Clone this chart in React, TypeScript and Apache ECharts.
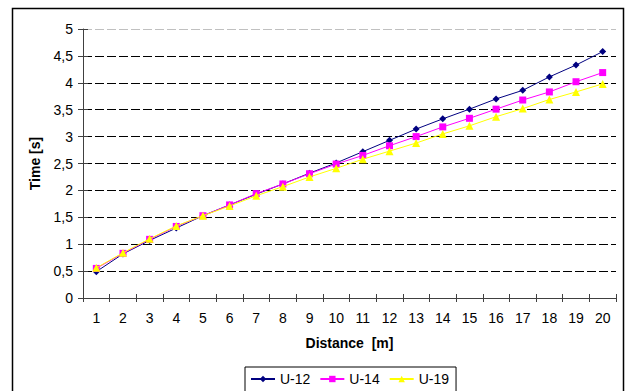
import React, { useEffect, useRef } from "react";
import * as echarts from "echarts";

const categories = ["1","2","3","4","5","6","7","8","9","10","11","12","13","14","15","16","17","18","19","20"];
const u12 = [0.49, 0.82, 1.07, 1.3, 1.53, 1.73, 1.93, 2.12, 2.32, 2.51, 2.72, 2.93, 3.14, 3.33, 3.51, 3.7, 3.86, 4.11, 4.33, 4.58];
const u14 = [0.55, 0.83, 1.09, 1.33, 1.53, 1.73, 1.94, 2.12, 2.31, 2.49, 2.65, 2.83, 3.0, 3.18, 3.34, 3.51, 3.68, 3.83, 4.02, 4.19];
const u19 = [0.56, 0.84, 1.1, 1.34, 1.53, 1.71, 1.9, 2.07, 2.25, 2.41, 2.58, 2.73, 2.88, 3.05, 3.2, 3.37, 3.52, 3.69, 3.83, 3.98];
const seriesNames = ["U-12", "U-14", "U-19"];

const FONT = "Liberation Sans, Arial, sans-serif";

export default function App() {
  const ref = useRef<HTMLDivElement>(null);
  useEffect(() => {
    if (!ref.current) return;
    const chart = echarts.init(ref.current, undefined, { renderer: "svg" });
    const gridColors = ["#000", "#000", "#000", "#000", "#000", "#000", "#000", "#000", "#000", "#000", "#c0c0c0"];
    chart.setOption({
      animation: false,
      backgroundColor: "#fff",
      textStyle: { fontFamily: FONT },
      graphic: [
        {
          type: "rect",
          shape: { x: 12.5, y: 8.5, width: 611, height: 400 },
          style: { fill: "none", stroke: "#000", lineWidth: 1.5 },
          silent: true,
        },
      ],
      grid: { left: 83, right: 10, top: 29, bottom: 93, containLabel: false },
      legend: {
        left: 245,
        top: 367,
        itemWidth: 24,
        itemHeight: 8,
        itemGap: 9,
        padding: [5, 7, 12, 5],
        borderColor: "#000",
        borderWidth: 1,
        data: seriesNames,
        textStyle: { fontFamily: FONT, fontSize: 14, color: "#000" },
      },
      xAxis: [
        {
          type: "category",
          data: categories,
          boundaryGap: true,
          name: "Distance  [m]",
          nameLocation: "middle",
          nameGap: 38,
          nameTextStyle: { fontFamily: FONT, fontSize: 14, fontWeight: "bold", color: "#000" },
          axisLine: { lineStyle: { color: "#404040", width: 1 } },
          axisTick: { show: true, length: 4, lineStyle: { color: "#404040" } },
          axisLabel: { margin: 13, fontFamily: FONT, fontSize: 14, color: "#000", interval: 0 },
          splitLine: { show: false },
        },
        {
          type: "category",
          data: categories,
          position: "bottom",
          boundaryGap: true,
          axisLine: { show: false },
          axisTick: { show: true, inside: true, length: 4, lineStyle: { color: "#404040" } },
          axisLabel: { show: false },
          splitLine: { show: false },
        },
      ],
      yAxis: [
        {
          type: "value",
          min: 0,
          max: 5,
          interval: 0.5,
          name: "Time [s]",
          nameLocation: "middle",
          nameGap: 41,
          nameRotate: 90,
          nameTextStyle: { fontFamily: FONT, fontSize: 14, fontWeight: "bold", color: "#000" },
          axisLine: { show: true, lineStyle: { color: "#404040", width: 1 } },
          axisTick: { show: true, length: 5, lineStyle: { color: "#404040" } },
          axisLabel: {
            margin: 10,
            fontFamily: FONT,
            fontSize: 14,
            color: "#000",
            formatter: (v: number) => String(v).replace(".", ","),
          },
          splitLine: { show: true, lineStyle: { color: gridColors, type: [9, 3], width: 1 } },
        },
        {
          type: "value",
          min: 0,
          max: 5,
          interval: 0.5,
          position: "left",
          axisLine: { show: false },
          axisTick: { show: true, inside: true, length: 5, lineStyle: { color: "#404040" } },
          axisLabel: { show: false },
          splitLine: { show: false },
        },
      ],
      series: [
        {
          name: seriesNames[0],
          type: "line",
          data: u12,
          color: "#000080",
          symbol: "diamond",
          symbolSize: 7,
          lineStyle: { width: 1, color: "#000080" },
          itemStyle: { color: "#000080" },
          z: 3,
        },
        {
          name: seriesNames[1],
          type: "line",
          data: u14,
          color: "#ff00ff",
          symbol: "rect",
          symbolSize: 7,
          lineStyle: { width: 1, color: "#ff00ff" },
          itemStyle: { color: "#ff00ff" },
          z: 4,
        },
        {
          name: seriesNames[2],
          type: "line",
          data: u19,
          color: "#ffff00",
          symbol: "triangle",
          symbolSize: 8,
          lineStyle: { width: 1, color: "#ffff00" },
          itemStyle: { color: "#ffff00" },
          z: 5,
        },
      ],
    });
    return () => chart.dispose();
  }, []);
  return (
    <div
      ref={ref}
      style={{ position: "absolute", left: 0, top: 0, width: 626, height: 391 }}
    />
  );
}
